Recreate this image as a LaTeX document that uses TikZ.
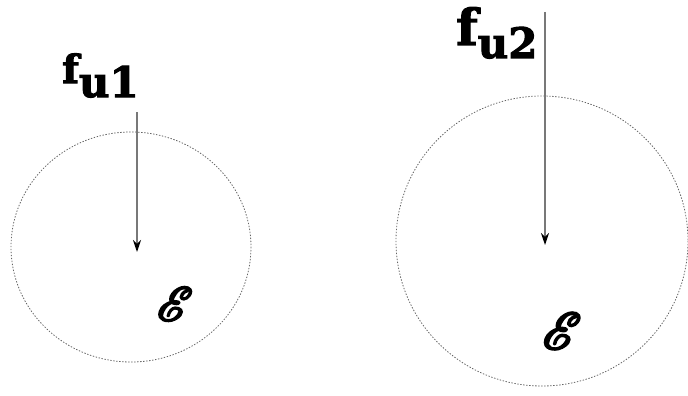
\documentclass[tikz,border=0pt]{standalone}
\usepackage{mathrsfs}
\usepackage{fontspec}
\usetikzlibrary{positioning,calc}
\usetikzlibrary{arrows.meta}
\newfontfamily\slabfont{DejaVu Serif}
\definecolor{RingGray}{RGB}{100,100,100}
\definecolor{ShaftGray}{RGB}{120,120,120}
\tikzset{
	ring/.style={draw=RingGray,line width=0.8pt,dash pattern=on 1.4pt off 1.6pt},
	force/.style={draw=ShaftGray,line width=1.3pt,-{Stealth[black,length=12pt,width=8pt]}},
	flabel/.style={inner sep=0pt,anchor=base west,font=\slabfont\bfseries},
	energy/.style={inner sep=0pt},
}
% heavy stroked text
\newcommand{\heavy}[2]{\special{pdf:literal direct 2 Tr #1 w}#2\special{pdf:literal direct 0 Tr}}
\newcommand{\energysym}[1]{\scalebox{#1}{\heavy{0.45}{$\mathscr{E}$}}}

\begin{document}
\begin{tikzpicture}[x=1pt,y=-1pt]
					\useasboundingbox (0,0) rectangle (688,396);
					% left particle
					\coordinate (c1) at (131,247);
					\coordinate (t1) at (137,112);
					\coordinate (h1) at (137,252);
					\draw[ring] (c1) ellipse [x radius=120,y radius=115];
					\draw[force] (t1)--(h1);
					\node[flabel] (f1) at (62,83) {\heavy{1}{\fontsize{39}{39}\selectfont f\raisebox{-14pt}{\fontsize{42}{42}\selectfont u1}}};
					\node[energy] (e1) at (175,304) {\energysym{4.8}};
					% right particle
					\coordinate (c2) at (542,241);
					\coordinate (t2) at (545,12);
					\coordinate (h2) at (545,245);
					\draw[ring] (c2) ellipse [x radius=146,y radius=145];
					\draw[force] (t2)--(h2);
					\node[flabel] (f2) at (456,45) {\heavy{1}{\fontsize{50}{50}\selectfont f\raisebox{-13pt}{\fontsize{42}{42}\selectfont u2}}};
					\node[energy] (e2) at (562,331) {\energysym{5.2}};
				\end{tikzpicture}
\end{document}
